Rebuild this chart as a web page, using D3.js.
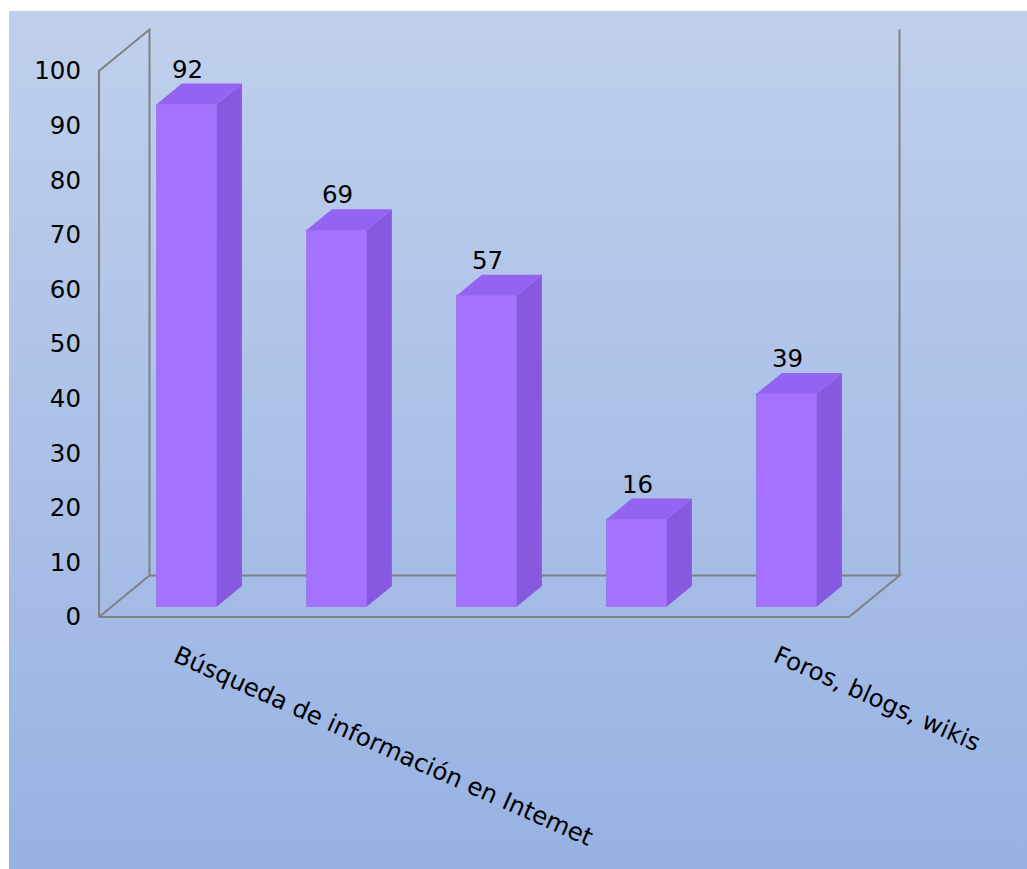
<!DOCTYPE html>
<html><head><meta charset="utf-8">
<script src="https://cdn.jsdelivr.net/npm/d3@7"></script>
<style>html,body{margin:0;padding:0;background:#fff}svg{display:block}</style>
</head><body>
<svg id="chart" width="1027" height="869"></svg>
<script>
const categories = ["Búsqueda de información en Intemet", "", "", "", "Foros, blogs, wikis"];
const values = [92, 69, 57, 16, 39];
const yTicks = [0, 10, 20, 30, 40, 50, 60, 70, 80, 90, 100];

(function () {
const svg = d3.select("#chart");
const defs = svg.append("defs");
const grad = defs.append("linearGradient").attr("id", "bg").attr("x1", 0).attr("y1", 0).attr("x2", 0).attr("y2", 1);
grad.append("stop").attr("offset", 0).attr("stop-color", "#C0D0EC");
grad.append("stop").attr("offset", 1).attr("stop-color", "#97B2E3");
svg.append("rect").attr("x", 9).attr("y", 11).attr("width", 1018).attr("height", 858).attr("fill", "url(#bg)");

// 3D geometry
const DX = 50.5, DY = -41.5;
const pLeft = 99, pRight = 849, pBottom = 617, pTop = 71;
const x = d3.scaleBand().domain(d3.range(categories.length)).range([pLeft, pRight]).paddingInner(0).paddingOuter(0);
const y = d3.scaleLinear().domain([0, 100]).range([pBottom, pTop]);

const wall = svg.append("g").attr("stroke", "#808080").attr("stroke-width", 2).attr("fill", "none");
const line = (pts) => wall.append("path").attr("d", d3.line()(pts));
line([[pLeft, y(0)], [pLeft, y(100)], [pLeft + DX, y(100) + DY], [pLeft + DX, y(0) + DY]]);
line([[pLeft, y(0)], [pRight, y(0)], [pRight + DX, y(0) + DY], [pLeft + DX, y(0) + DY], [pLeft, y(0)]]);
line([[pRight + DX, y(0) + DY], [pRight + DX, y(100) + DY]]);

// bars
const barFrac = 0.4;
const f0 = 0.25, f1 = 0.75;
const bars = svg.append("g");
values.forEach((v, i) => {
  const bw = x.bandwidth() * barFrac;
  const x0 = x(i) + (x.bandwidth() - bw) / 2 + DX * f0;
  const x1 = x0 + bw;
  const yb = y(0) + DY * f0;
  const yt = y(v) + DY * f0;
  const ddx = DX * (f1 - f0), ddy = DY * (f1 - f0);
  const g = bars.append("g");
  g.append("path").attr("d", d3.line()([[x1, yb], [x1 + ddx, yb + ddy], [x1 + ddx, yt + ddy], [x1, yt]]) + "Z")
    .attr("fill", "#8659E0");
  g.append("path").attr("d", d3.line()([[x0, yt], [x0 + ddx, yt + ddy], [x1 + ddx, yt + ddy], [x1, yt]]) + "Z")
    .attr("fill", "#9563F2");
  g.append("rect").attr("x", x0).attr("y", yt).attr("width", bw).attr("height", yb - yt)
    .attr("fill", "#A572FF").attr("stroke", "#9364EC").attr("stroke-width", 0.6);
  svg.append("text").attr("x", (x0 + x1) / 2 + 1).attr("y", yt + ddy - 6)
    .attr("text-anchor", "middle").attr("font-family", "DejaVu Sans").attr("font-size", 24.5)
    .attr("fill", "#000").text(v);
});

// y axis labels
const yAxis = d3.axisLeft(y).tickValues(yTicks).tickSize(0).tickPadding(18);
const ya = svg.append("g").attr("transform", `translate(${pLeft},0)`).call(yAxis);
ya.select(".domain").remove();
ya.selectAll("text").attr("font-family", "DejaVu Sans").attr("font-size", 24.5).attr("fill", "#000");

// x labels
const xl = svg.append("g");
categories.forEach((c, i) => {
  if (!c) return;
  const cx = x(i) + x.bandwidth() / 2 - 2;
  xl.append("text").attr("transform", `translate(${cx},661) rotate(24)`)
    .attr("font-family", "DejaVu Sans").attr("font-size", 24.5).attr("fill", "#000").text(c);
});
})();
</script>
</body></html>
